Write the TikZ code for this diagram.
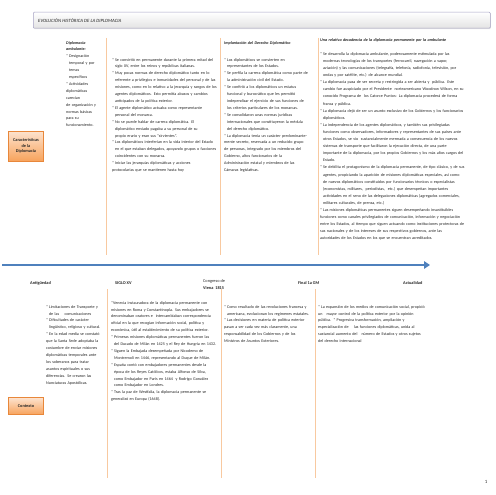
\documentclass[tikz,border=0pt]{standalone}
\usepackage{fontspec}
\setmainfont{Carlito}
\usetikzlibrary{positioning,arrows.meta,shadows}

\definecolor{textgray}{HTML}{262626}
\definecolor{divorange}{HTML}{F8C9A0}
\definecolor{tagtop}{HTML}{FDE3CF}
\definecolor{tagbot}{HTML}{F7A35C}
\definecolor{tagline}{HTML}{E8873A}
\definecolor{arrowblue}{HTML}{4F81BD}
\definecolor{barline}{HTML}{A7A3C4}

% bullet with hanging indent
\newcommand\bul{\par\noindent\hangindent=0.7em\hangafter=1\makebox[0.7em][l]{*}}

\begin{document}
\begin{tikzpicture}[x=1pt, y=-1pt,
  txt/.style={anchor=north west, inner sep=0pt, align=left, text width=#1,
    font=\fontsize{4.1}{6.9}\selectfont, text=textgray},
  hdr/.style={txt=#1, font=\fontsize{4.1}{6.9}\selectfont\bfseries\itshape},
  eralabel/.style={anchor=west, inner sep=0pt, font=\fontsize{4.3}{5.5}\selectfont\bfseries, text=textgray},
  divline/.style={draw=divorange, line width=0.7pt},
  tagbox/.style={draw=tagline, line width=0.4pt, top color=tagtop, bottom color=tagbot,
    drop shadow={opacity=0.25, shadow xshift=0.8pt, shadow yshift=-0.8pt},
    align=center, inner sep=1pt, font=\fontsize{4.3}{5.6}\selectfont\bfseries, text=textgray}]
\useasboundingbox (0,0) rectangle (495,495);
\fill[white] (0,0) rectangle (495,495);

% title bar
\node[draw=barline, line width=0.5pt, top color=white, bottom color=gray!22, rounded corners=1pt,
  drop shadow={opacity=0.2, shadow xshift=0.6pt, shadow yshift=-0.8pt},
  minimum width=457pt, minimum height=16pt, anchor=north west, inner sep=0pt] (titlebar) at (33,12) {};
\node[anchor=west, inner sep=0pt, font=\fontsize{4.8}{5.5}\selectfont\itshape, text=textgray]
  (title) at ([xshift=5pt]titlebar.west) {EVOLUCIÓN HISTÓRICA DE LA DIPLOMACIA};

% top separators
\foreach \x/\n in {106/a,220/b,318/c}{
  \coordinate (top\n1) at (\x,38);
  \coordinate (top\n2) at (\x,255);
  \draw[divline] (top\n1) -- (top\n2);
}

% top columns
\node[txt=45pt] (ambulante) at (66,41) {\textbf{\textit{Diplomacia\newline ambulante:}}
\bul Designación\newline temporal y por\newline temas\newline específicos
\bul Actividades\newline diplomáticas\newline carecían\newline de organización y\newline normas básicas\newline para su\newline funcionamiento.};

\node[txt=112pt] (sigloxv) at (112,54) {%
\bul Se convirtió en permanente durante la primera mitad del\newline siglo XV, entre los reinos y repúblicas italianas.
\bul Muy pocas normas de derecho diplomático tanto en lo\newline referente a privilegios e inmunidades del personal y de las\newline misiones, como en lo relativo a la jerarquía y rangos de los\newline agentes diplomáticos. Esto permitía abusos y cambios\newline anticipados de la política exterior.
\bul El agente diplomático actuaba como representante\newline personal del monarca.
\bul No se puede hablar de carrera diplomática. El\newline diplomático enviado pagaba a su personal de su\newline propio erario y eran sus "sirvientes".
\bul Los diplomáticos interferían en la vida interior del Estado\newline en el que estaban delegados, apoyando grupos o facciones\newline coincidentes con su monarca.
\bul Iniciar las jerarquías diplomáticas y acciones\newline protocolarias que se mantienen hasta hoy};

\node[hdr=100pt] (implhdr) at (224,41) {Implantación del Derecho Diplomático};
\node[txt=100pt] (impl) at (224,54) {%
\bul Los diplomáticos se convierten en\newline representantes de los Estados.
\bul Se perfila la carrera diplomática como parte de\newline la administración civil del Estado.
\bul Se confirió a los diplomáticos un estatus\newline funcional y burocrático que les permitió\newline independizar el ejercicio de sus funciones de\newline los criterios particulares de los monarcas.
\bul Se consolidaron unas normas jurídicas\newline internacionales que constituyeron la médula\newline del derecho diplomático.
\bul La diplomacia tenía un carácter predominante-\newline mente secreto, reservada a un reducido grupo\newline de personas, integrado por los miembros del\newline Gobierno, altos funcionarios de la\newline Administración estatal y miembros de las\newline Cámaras legislativas.};

\node[hdr=172pt] (decadhdr) at (320,38) {Una relativa decadencia de la diplomacia permanente por la ambulante};
\node[txt=172pt, font=\fontsize{4.1}{7.1}\selectfont] (decad) at (320,48) {%
\bul Se desarrolla la diplomacia ambulante, poderosamente estimulada por las\newline modernas tecnologías de los transportes (ferrocarril, navegación a vapor,\newline aviación) y las comunicaciones (telegrafía, telefonía, radiofonía, televisión, por\newline ondas y por satélite, etc.) de alcance mundial.
\bul La diplomacia pasa de ser secreta y restringida a ser abierta y \ pública. Este\newline cambio fue auspiciado por el Presidente \ norteamericano Woodrow Wilson, en su\newline conocido Programa de \ los Catorce Puntos: La diplomacia procederá de forma\newline franca y pública.
\bul La diplomacia dejó de ser un asunto exclusivo de los Gobiernos y los funcionarios\newline diplomáticos.
\bul La independencia de los agentes diplomáticos, y también sus privilegiadas\newline funciones como observadores, informadores y representantes de sus países ante\newline otros Estados, se vio \ sustancialmente mermada a consecuencia de los nuevos\newline sistemas de transporte que facilitaron la ejecución directa, de una parte\newline importante de la diplomacia, por los propios Gobiernos y los más altos cargos del\newline Estado.
\bul Se debilita el protagonismo de la diplomacia permanente, de tipo clásico, y de sus\newline agentes, propiciando la aparición de misiones diplomáticas especiales, así como\newline de nuevos diplomáticos constituidos por funcionarios técnicos o especialistas\newline (economistas, militares, \ periodistas, \ etc.) que desempeñan importantes\newline actividades en el seno de las delegaciones diplomáticas (agregados comerciales,\newline militares culturales, de prensa, etc.)
\bul Las misiones diplomáticas permanentes siguen desempeñando insustituibles\newline funciones como canales privilegiados de comunicación, información y negociación\newline entre los Estados, al tiempo que siguen actuando como instituciones protectoras de\newline sus nacionales y de los intereses de sus respectivos gobiernos, ante las\newline autoridades de los Estados en los que se encuentran acreditados.};

\node[tagbox, minimum width=35pt, minimum height=30pt] (caract) at (26,146) {Características\\de la\\Diplomacia};

% timeline
\coordinate (tl0) at (2,265);
\coordinate (tl1) at (430,265);
\draw[draw=arrowblue, line width=2.2pt, -{Triangle[length=6pt,width=7.5pt]}] (tl0) -- (tl1);

\node[eralabel] (antig) at (30,283) {Antigüedad};
\node[eralabel] (siglo) at (115,283) {SIGLO XV};
\node[eralabel, font=\fontsize{4.3}{5.5}\selectfont] (congreso) at (203,281) {Congreso de};
\node[eralabel] (viena) at (203,288) {Viena \ 1815};
\node[eralabel] (finalgm) at (298,283) {Final 1a GM};
\node[eralabel] (actual) at (403,283) {Actualidad};

% bottom separators
\foreach \x/\n in {107/a,221/b,315/c}{
  \coordinate (bot\n1) at (\x,289);
  \coordinate (bot\n2) at (\x,478);
  \draw[divline] (bot\n1) -- (bot\n2);
}

% bottom columns
\node[txt=62pt] (ctxa) at (46,301) {%
\bul Limitaciones de Transporte y\newline de las \ \ \ comunicaciones
\bul Dificultades de carácter\newline lingüístico, religioso y cultural.
\bul En la edad media se constató\newline que la Santa Sede adoptaba la\newline costumbre de enviar misiones\newline diplomáticas temporales ante\newline los soberanos para tratar\newline asuntos espirituales o sus\newline diferencias. Se crearon las\newline Nunciaturas Apostólicas.};

\node[txt=112pt] (ctxb) at (111,301) {%
\noindent*Venecia instauradora de la diplomacia permanente con\newline misiones en Roma y Constantinopla. Sus embajadores se\newline denominaban oratores e \ intercambiaban correspondencia\newline oficial en la que recogían información social, política y\newline económica, útil al establecimiento de su política exterior.
\bul Primeras misiones diplomáticas permanentes fueron las\newline del Ducado de Milán en 1425 y el Rey de Hungría en 1432.
\bul Siguen la Embajada desempeñada por Nicodemo de\newline Montremoli en 1446, representando al Duque de Milán.
\bul España contó con embajadores permanentes desde la\newline época de los Reyes Católicos, estaba Alfonso de Silva,\newline como Embajador en París en 1464 \ y Rodrigo González\newline como Embajador en Londres.
\bul Tras la paz de Westfalia, la diplomacia permanente se\newline generalizó en Europa (1648).};

\node[txt=95pt] (ctxc) at (224,301) {%
\bul Como resultado de las revoluciones francesa y\newline americana, evolucionan los regímenes estatales.
\bul Las decisiones en materia de política exterior\newline pasan a ser cada vez más claramente, una\newline responsabilidad de los Gobiernos y de los\newline Ministros de Asuntos Exteriores.};

\node[txt=135pt] (ctxd) at (318,301) {%
\bul La expansión de los medios de comunicación social, propició\newline un \ \ mayor control de la política exterior por la opinión\newline pública. * Progresiva transformación, ampliación y\newline especialización de \ \ \ las funciones diplomáticas, unida al\newline sustancial aumento del \ \ número de Estados y otros sujetos\newline del derecho internacional};

\node[tagbox, minimum width=35pt, minimum height=17pt] (contexto) at (26,406) {Contexto};

\node[anchor=center, inner sep=0pt, font=\fontsize{4.8}{5}\selectfont, text=textgray] (pagenum) at (486,482) {1};
\end{tikzpicture}
\end{document}
